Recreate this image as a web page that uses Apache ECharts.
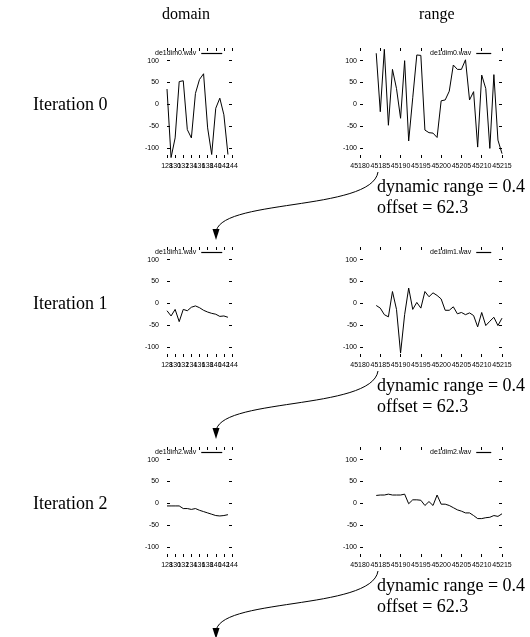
<!DOCTYPE html>
<html>
<head>
<meta charset="utf-8">
<script src="https://cdn.jsdelivr.net/npm/echarts@6/dist/echarts.min.js"></script>
<style>html,body{margin:0;padding:0;background:#fff}#c{width:530px;height:637px}</style>
</head>
<body>
<div id="c"></div>
<script>
// ---- data ----
var seriesNames = ['de1dim0.wav', 'de1dim1.wav', 'de1dim2.wav'];
var rowLabels = ['Iteration 0', 'Iteration 1', 'Iteration 2'];
var columnLabels = ['domain', 'range'];
var noteLines = ['dynamic range = 0.4', 'offset = 62.3'];

var domainX = [128,129,130,131,132,133,134,135,136,137,138,139,140,141,142,143];
var domain0 = [35,-122,-77,52,54,-58,-77,25,57,70,-54,-115,-9,14,-24,-115];
var domain1 = [-17,-29,-14,-42,-14,-17,-9,-6,-10,-16,-20,-23,-25,-30,-29,-32];
var domain2 = [-6,-6,-6,-6,-12,-12,-14,-12,-16,-19,-22,-25,-28,-29,-28,-26];

var rangeX = [45184,45185,45186,45187,45188,45189,45190,45191,45192,45193,45194,45195,45196,45197,45198,45199,
              45200,45201,45202,45203,45204,45205,45206,45207,45208,45209,45210,45211,45212,45213,45214,45215];
var range0 = [117,-17,126,-48,80,36,-32,100,-84,15,113,112,-59,-65,-66,-76,8,10,30,90,80,80,102,10,29,-98,67,36,-101,68,-82,-113];
var range1 = [-5,-11,-26,-31,27,-14,-114,-26,35,-14,2,-11,27,15,24,18,10,-16,-16,-8,-24,-21,-26,-22,-28,-54,-21,-51,-41,-32,-51,-34];
var range2 = [18,19,19,21,19,19,19,21,-1,8,8,7,-5,4,-5,19,-2,-2,-5,-10,-15,-18,-22,-22,-28,-35,-35,-33,-32,-28,-30,-24];

var domainTicks = [128,130,132,134,136,138,140,142,144];
var rangeTicks = [45180,45185,45190,45195,45200,45205,45210,45215];
var yTicks = [-100,-50,0,50,100];

// ---- build ----
var domainData = [domain0, domain1, domain2];
var rangeData = [range0, range1, range2];
var rowTop = [48, 247, 447];
var plotH = 110;
var yMin = -123, yMax = 129;

var grids = [], xAxes = [], yAxes = [], series = [], legends = [], graphics = [];
var font = 'Liberation Sans';
var tickStyle = {color: '#000', width: 1};
function plain(v) { return String(v); }
function zip(xs, ys) { return xs.map(function (x, i) { return [x, ys[i]]; }); }
function everyOther(arr, start) { return arr.filter(function (v, i) { return i % 2 === start; }); }

function labelAxis(g, col, values) {
  xAxes.push({type: 'value', gridIndex: g, position: 'bottom', min: col.min, max: col.max,
    axisLine: {show: false, onZero: false}, splitLine: {show: false}, axisTick: {show: false},
    axisLabel: {show: true, margin: 5, fontSize: 7, fontFamily: font, color: '#000', customValues: values,
      hideOverlap: false, showMinLabel: true, showMaxLabel: true, formatter: plain}});
}

for (var r = 0; r < 3; r++) {
  var cols = [
    {left: 167, width: 65, xs: domainX, ys: domainData[r], min: 128, max: 144, ticks: domainTicks, labMargin: 8,
     legLeft: 155, legIcon: 21, split: true},
    {left: 360, width: 142, xs: rangeX, ys: rangeData[r], min: 45180, max: 45215, ticks: rangeTicks, labMargin: 3,
     legLeft: 430, legIcon: 15, split: false}
  ];
  for (var c = 0; c < 2; c++) {
    var col = cols[c];
    var g = grids.length;
    grids.push({left: col.left, top: rowTop[r], width: col.width, height: plotH, show: false});
    var xIdx = xAxes.length;
    xAxes.push({type: 'value', gridIndex: g, position: 'bottom', min: col.min, max: col.max,
      axisLine: {show: false, onZero: false}, splitLine: {show: false},
      axisTick: {show: true, inside: true, length: 3, lineStyle: tickStyle, customValues: col.ticks},
      axisLabel: {show: false}});
    xAxes.push({type: 'value', gridIndex: g, position: 'top', min: col.min, max: col.max,
      axisLine: {show: false, onZero: false}, splitLine: {show: false},
      axisTick: {show: true, inside: true, length: 3, lineStyle: tickStyle, customValues: col.ticks},
      axisLabel: {show: false}});
    if (col.split) {
      labelAxis(g, col, everyOther(col.ticks, 0));
      labelAxis(g, col, everyOther(col.ticks, 1));
    } else {
      labelAxis(g, col, col.ticks);
    }
    var yIdx = yAxes.length;
    yAxes.push({type: 'value', gridIndex: g, position: 'left', min: yMin, max: yMax,
      axisLine: {show: false, onZero: false}, splitLine: {show: false},
      axisTick: {show: true, inside: true, length: 3, lineStyle: tickStyle, customValues: yTicks},
      axisLabel: {show: true, margin: col.labMargin, fontSize: 7, fontFamily: font, color: '#000', customValues: yTicks,
        formatter: plain}});
    yAxes.push({type: 'value', gridIndex: g, position: 'right', min: yMin, max: yMax,
      axisLine: {show: false, onZero: false}, splitLine: {show: false},
      axisTick: {show: true, inside: true, length: 3, lineStyle: tickStyle, customValues: yTicks},
      axisLabel: {show: false}});
    series.push({type: 'line', name: seriesNames[r], xAxisIndex: xIdx, yAxisIndex: yIdx,
      data: zip(col.xs, col.ys), showSymbol: false, symbol: 'none', silent: true,
      lineStyle: {color: '#000', width: 1}, itemStyle: {color: '#000'}});
    legends.push({show: true, left: col.legLeft, top: rowTop[r] + 2, align: 'right', orient: 'horizontal',
      padding: 0, itemGap: 0, itemWidth: col.legIcon, itemHeight: 1.2, selectedMode: false,
      icon: 'rect',
      textStyle: {fontSize: 7, fontFamily: font, color: '#000', padding: [0, 0, 0, 0]},
      data: [{name: seriesNames[r], itemStyle: {color: '#000'}}]});
  }
  graphics.push({type: 'text', left: 33, top: rowTop[r] + 48, style: {text: rowLabels[r], font: '18px "Liberation Serif"', fill: '#000'}});
  graphics.push({type: 'text', left: 377, top: rowTop[r] + 130, style: {text: noteLines[0], font: '18px "Liberation Serif"', fill: '#000'}});
  graphics.push({type: 'text', left: 377, top: rowTop[r] + 151, style: {text: noteLines[1], font: '18px "Liberation Serif"', fill: '#000'}});
  var y0 = rowTop[r] + 124;
  graphics.push({type: 'bezierCurve', shape: {x1: 378, y1: y0, cpx1: 372, cpy1: y0 + 40, cpx2: 214, cpy2: y0 + 26, x2: 216, y2: y0 + 62},
    style: {stroke: '#000', lineWidth: 1, fill: null}});
  graphics.push({type: 'polygon', shape: {points: [[212.5, y0 + 57], [219.5, y0 + 57], [216, y0 + 68]]}, style: {fill: '#000'}});
}
graphics.push({type: 'text', left: 162, top: 7, style: {text: columnLabels[0], font: '16px "Liberation Serif"', fill: '#000'}});
graphics.push({type: 'text', left: 419, top: 7, style: {text: columnLabels[1], font: '16px "Liberation Serif"', fill: '#000'}});

var chart = echarts.init(document.getElementById('c'), null, {renderer: 'canvas'});
chart.setOption({
  animation: false,
  backgroundColor: '#fff',
  grid: grids, xAxis: xAxes, yAxis: yAxes, series: series, legend: legends, graphic: graphics
});
</script>
</body>
</html>
